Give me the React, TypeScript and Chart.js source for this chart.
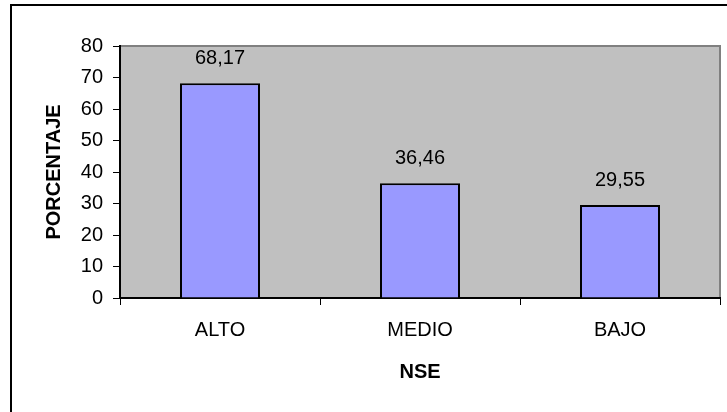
import React, { useEffect, useRef } from "react";
import { Chart, registerables } from "chart.js";

Chart.register(...registerables);

const categories: string[] = ["ALTO", "MEDIO", "BAJO"];
const porcentajes: number[] = [68.17, 36.46, 29.55];
const yTicks: number[] = [0, 10, 20, 30, 40, 50, 60, 70, 80];
const xTitle = "NSE";
const yTitle = "PORCENTAJE";

const FONT = "'Liberation Sans', Arial, sans-serif";

const formatValue = (v: number) => v.toFixed(2).replace(".", ",");

// Gray plot background with darker top/right edge, plus the outer frame.
const framePlugin = {
  id: "frame",
  beforeDraw(chart: any) {
    const { ctx, chartArea: a } = chart;
    ctx.save();
    ctx.fillStyle = "#ffffff";
    ctx.fillRect(0, 0, chart.width, chart.height);
    ctx.fillStyle = "#c0c0c0";
    ctx.fillRect(a.left, a.top, a.right - a.left, a.bottom - a.top);
    ctx.strokeStyle = "#808080";
    ctx.lineWidth = 2;
    ctx.beginPath();
    ctx.moveTo(a.left, a.top);
    ctx.lineTo(a.right, a.top);
    ctx.lineTo(a.right, a.bottom);
    ctx.stroke();
    ctx.restore();
  },
  afterDraw(chart: any) {
    const { ctx } = chart;
    ctx.save();
    ctx.fillStyle = "#000000";
    ctx.fillRect(10, 4, 2, chart.height);
    ctx.fillRect(10, 4, chart.width, 2);
    ctx.restore();
  },
};

// Value labels above each bar.
const valueLabelPlugin = {
  id: "valueLabels",
  afterDatasetsDraw(chart: any) {
    const { ctx } = chart;
    const meta = chart.getDatasetMeta(0);
    const data = chart.data.datasets[0].data as number[];
    ctx.save();
    ctx.fillStyle = "#000000";
    ctx.font = `20px ${FONT}`;
    ctx.textAlign = "center";
    ctx.textBaseline = "alphabetic";
    meta.data.forEach((bar: any, i: number) => {
      ctx.fillText(formatValue(data[i]), bar.x, bar.y - 19);
    });
    ctx.restore();
  },
};

export default function App() {
  const canvasRef = useRef<HTMLCanvasElement | null>(null);

  useEffect(() => {
    const canvas = canvasRef.current;
    if (!canvas) return;
    const chart = new Chart(canvas, {
      type: "bar",
      data: {
        labels: categories,
        datasets: [
          {
            data: porcentajes,
            backgroundColor: "#9999ff",
            borderColor: "#000000",
            borderWidth: 2,
            borderSkipped: "bottom",
            barPercentage: 0.4,
            categoryPercentage: 1,
          },
        ],
      },
      options: {
        responsive: false,
        animation: false,
        devicePixelRatio: 1,
        layout: { padding: { top: 46, right: 7, left: 0, bottom: 0 } },
        plugins: {
          legend: { display: false },
          tooltip: { enabled: false },
        },
        scales: {
          x: {
            offset: true,
            grid: {
              offset: true,
              drawOnChartArea: false,
              drawTicks: true,
              tickLength: 7,
              color: "#000000",
              lineWidth: 1,
            },
            border: { display: true, color: "#000000", width: 2 },
            ticks: {
              color: "#000000",
              padding: 13,
              font: { family: FONT, size: 20 },
            },
            title: {
              display: true,
              text: xTitle,
              color: "#000000",
              font: { family: FONT, size: 20, weight: "bold" },
              padding: { top: 0, bottom: 28 },
            },
            afterFit(scale: any) {
              scale.height = 114;
            },
          },
          y: {
            min: 0,
            max: 80,
            afterBuildTicks(scale: any) {
              scale.ticks = yTicks.map((v) => ({ value: v }));
            },
            grid: {
              drawOnChartArea: false,
              drawTicks: true,
              tickLength: 7,
              color: "#000000",
              lineWidth: 1,
            },
            border: { display: true, color: "#000000", width: 2 },
            ticks: {
              color: "#000000",
              padding: 10,
              font: { family: FONT, size: 20 },
            },
            title: {
              display: true,
              text: yTitle,
              color: "#000000",
              font: { family: FONT, size: 20, weight: "bold" },
              padding: { top: 42, bottom: 0 },
            },
            afterFit(scale: any) {
              scale.width = 120;
            },
          },
        },
      },
      plugins: [framePlugin, valueLabelPlugin],
    });
    return () => chart.destroy();
  }, []);

  return (
    <div style={{ position: "absolute", left: 0, top: 0, width: 727, height: 412 }}>
      <canvas ref={canvasRef} width={727} height={412} style={{ display: "block" }} />
    </div>
  );
}
